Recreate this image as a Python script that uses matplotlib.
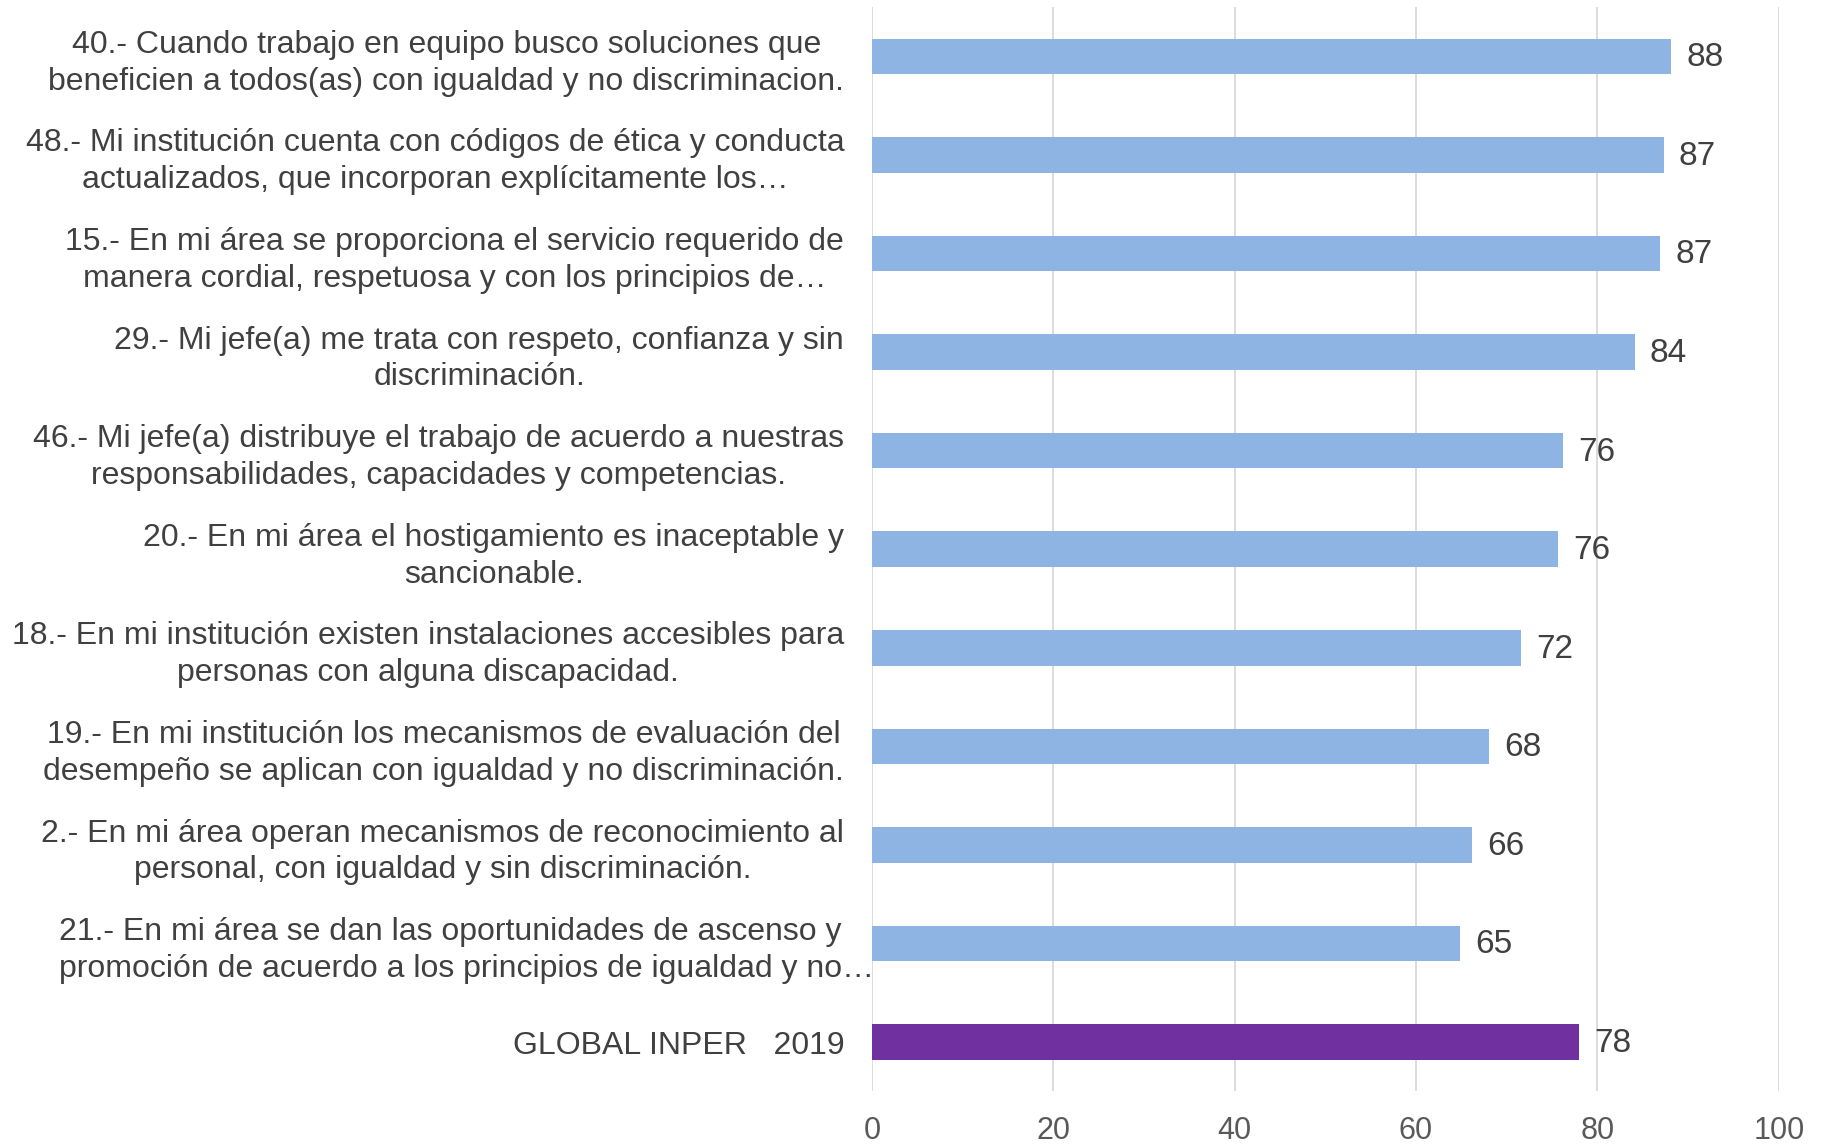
import matplotlib
matplotlib.use("Agg")
import matplotlib.pyplot as plt
import matplotlib.transforms as mtransforms

plt.rcParams['font.family'] = ['Liberation Sans', 'DejaVu Sans']

categories = [
    "40.- Cuando trabajo en equipo busco soluciones que\nbeneficien a todos(as) con igualdad y no discriminacion.",
    "48.- Mi institución cuenta con códigos de ética y conducta\nactualizados, que incorporan explícitamente los…",
    "15.- En mi área se proporciona el servicio requerido de\nmanera cordial, respetuosa y con los principios de…",
    "29.- Mi jefe(a) me trata con respeto, confianza y sin\ndiscriminación.",
    "46.- Mi jefe(a) distribuye el trabajo de acuerdo a nuestras\nresponsabilidades, capacidades y competencias.",
    "20.- En mi área el hostigamiento es inaceptable y\nsancionable.",
    "18.- En mi institución existen instalaciones accesibles para\npersonas con alguna discapacidad.",
    "19.- En mi institución los mecanismos de evaluación del\ndesempeño se aplican con igualdad y no discriminación.",
    "2.- En mi área operan mecanismos de reconocimiento al\npersonal, con igualdad y sin discriminación.",
    "21.- En mi área se dan las oportunidades de ascenso y\npromoción de acuerdo a los principios de igualdad y no…",
    "GLOBAL INPER   2019",
]
values = [88.1, 87.3, 86.9, 84.1, 76.2, 75.6, 71.6, 68.0, 66.2, 64.8, 78.0]
labels = ["88", "87", "87", "84", "76", "76", "72", "68", "66", "65", "78"]
colors = ["#8EB4E3"] * 10 + ["#7030A0"]
xticks = [0, 20, 40, 60, 80, 100]

fig = plt.figure(figsize=(18.3, 11.44), dpi=100)
ax = fig.add_axes([0.4765, 0.0459, 0.972 - 0.4765, 0.9939 - 0.0459])

y = list(range(len(categories)))
ax.barh(y, values, height=0.36, color=colors, zorder=3)
for yi, v, lab in zip(y, values, labels):
    ax.annotate(lab, (v, yi), xytext=(11, -1), textcoords='offset points',
                va='center', ha='left', fontsize=24, color='#404040')

ax.set_xlim(0, 100)
ax.set_ylim(len(categories) - 0.5, -0.5)
ax.set_xticks(xticks)
ax.set_xticklabels([str(t) for t in xticks], fontsize=22, color='#595959')
ax.set_yticks(y)
tls = ax.set_yticklabels(categories, fontsize=23, color='#404040', multialignment='center',
                         linespacing=1.3)
ax.tick_params(axis='y', length=0, pad=20)
ax.tick_params(axis='x', length=0, pad=18)

# the truncated label 21 overflows toward the axis and is left-aligned
t21 = tls[9]
t21.set_multialignment('left')
t21.set_transform(t21.get_transform() +
                  mtransforms.ScaledTranslation(0.30, 0, fig.dpi_scale_trans))

ax.grid(axis='x', color='#D9D9D9', linewidth=1.3, zorder=0)
for s in ax.spines.values():
    s.set_visible(False)

fig.savefig("out.png", dpi=100)
